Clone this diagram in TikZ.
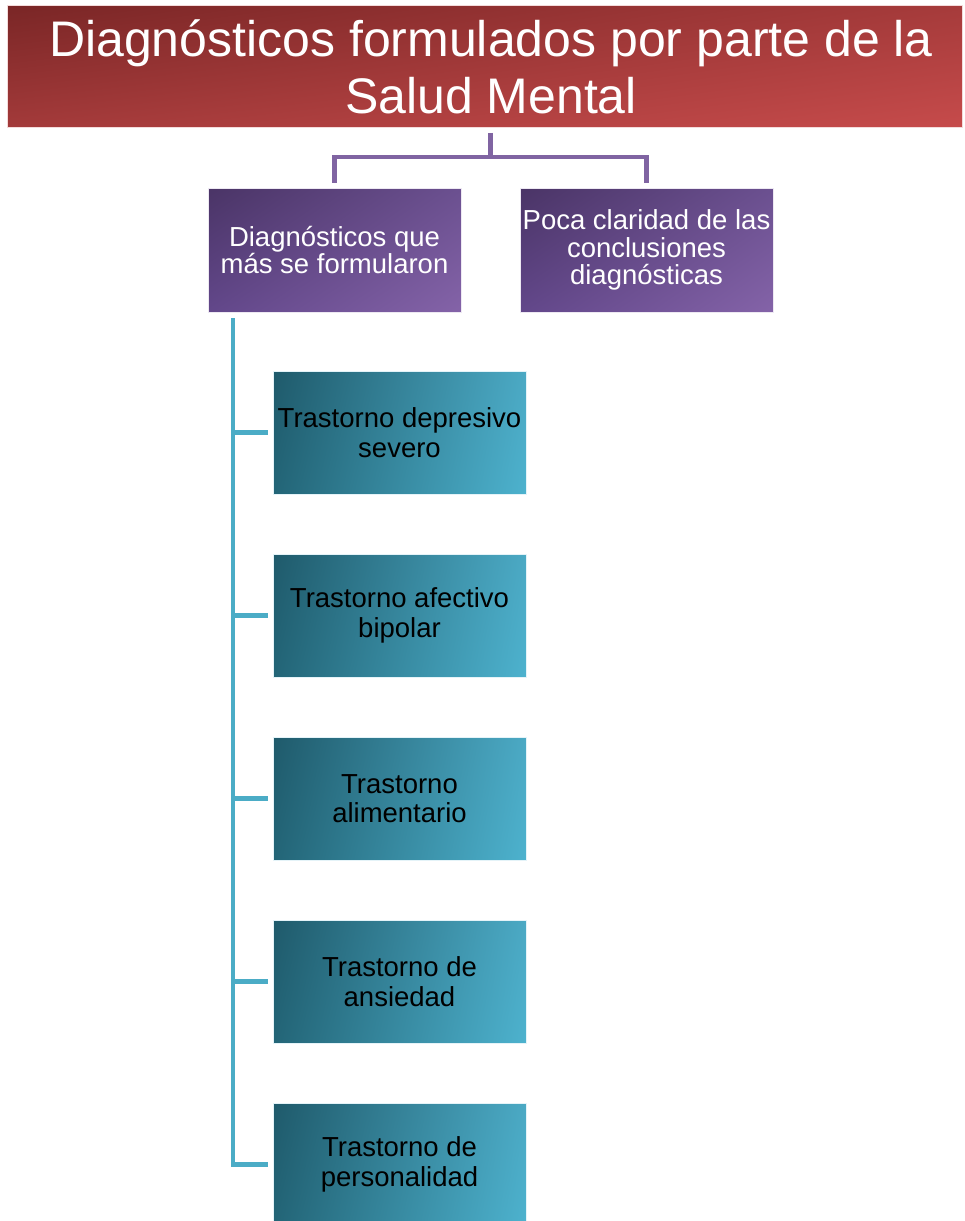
\documentclass[tikz,border=0pt]{standalone}
\usepackage{fontspec}
\setmainfont{Liberation Sans}
\usetikzlibrary{shadings}
\begin{document}
% corner colours of the box gradients
\definecolor{redUL}{HTML}{7A2626}
\definecolor{redUR}{HTML}{A63B3B}
\definecolor{redLL}{HTML}{A33A3A}
\definecolor{redLR}{HTML}{C64B4B}
\definecolor{purUL}{HTML}{4A3466}
\definecolor{purUR}{HTML}{6B5090}
\definecolor{purLL}{HTML}{62478A}
\definecolor{purLR}{HTML}{8463A8}
\definecolor{tealUL}{HTML}{1F5A6B}
\definecolor{tealUR}{HTML}{4BA9C4}
\definecolor{tealLL}{HTML}{236577}
\definecolor{tealLR}{HTML}{4DB2CE}
\definecolor{purLine}{HTML}{8064A2}
\definecolor{tealLine}{HTML}{4BACC6}
\begin{tikzpicture}[x=1pt,y=-1pt,
  titlebox/.style={rectangle, inner sep=0pt, minimum width=955pt, minimum height=122pt,
    upper left=redUL, upper right=redUR, lower left=redLL, lower right=redLR,
    draw=white!80!redLR, line width=0.8pt,
    text=white, align=center, font=\fontsize{50}{57}\selectfont},
  purbox/.style={rectangle, inner sep=0pt, minimum width=253pt, minimum height=124pt,
    upper left=purUL, upper right=purUR, lower left=purLL, lower right=purLR,
    draw=white!85!purLR, line width=0.6pt,
    text=white, align=center, font=\fontsize{27.5}{27.5}\selectfont},
  tealbox/.style={rectangle, inner sep=0pt, minimum width=253pt, minimum height=123pt,
    upper left=tealUL, upper right=tealUR, lower left=tealLL, lower right=tealLR,
    draw=white!85!tealLR, line width=0.6pt,
    text=black, align=center, font=\fontsize{27.5}{29.5}\selectfont},
  pline/.style={draw=purLine, line width=4.5pt},
  tline/.style={draw=tealLine, line width=4.5pt}]
\useasboundingbox (0,0) rectangle (965,1221);
\fill[white] (0,0) rectangle (965,1221);

% header
\node[titlebox] (title) at (484.5,66.5)
  {\hspace*{13pt}Diagnósticos formulados por parte de la\\\hspace*{13pt}Salud Mental};

% second level
\node[purbox] (p1) at (334.5,250) {Diagnósticos que\\más se formularon};
\node[purbox] (p2) at (646.5,250) {Poca claridad de las\\conclusiones\\diagnósticas};

% third level
\node[tealbox] (t1) at (399.5,432.5) {Trastorno depresivo\\severo};
\node[tealbox] (t2) at (399.5,615.5) {Trastorno afectivo\\bipolar};
\node[tealbox] (t3) at (399.5,798.5) {Trastorno\\alimentario};
\node[tealbox] (t4) at (399.5,981.5) {Trastorno de\\ansiedad};
\node[tealbox] (t5) at (399.5,1164.5) {Trastorno de\\personalidad};

% header to second level
\coordinate (hub) at (490.5,157);
\draw[pline, shorten <=5pt] (title.south -| hub) -- (hub);
\draw[pline, shorten >=5pt] (hub) -| (p1.north);
\draw[pline, shorten >=5pt] (hub) -| (p2.north);

% vertical list
\coordinate (trunktop) at (233,318);
\draw[tline, shorten >=5pt] (trunktop) |- (t5.west);
\foreach \t in {t1,t2,t3,t4}
  \draw[tline, shorten >=5pt] (\t.west -| trunktop) -- (\t.west);
\end{tikzpicture}
\end{document}
